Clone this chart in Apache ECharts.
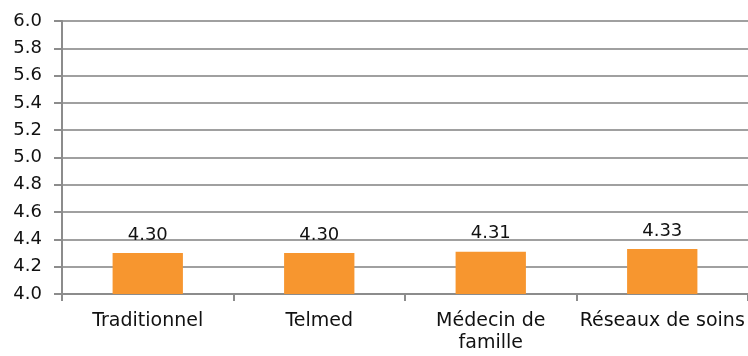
<!DOCTYPE html>
<html>
<head>
<meta charset="utf-8">
<script src="https://cdn.jsdelivr.net/npm/echarts@6/dist/echarts.min.js"></script>
<style>
  html, body { margin: 0; padding: 0; background: #ffffff; }
  #chart { width: 748px; height: 356px; }
</style>
</head>
<body>
<div id="chart"></div>
<script>
// Categories and mean scores per care model
const categories = ['Traditionnel', 'Telmed', 'Médecin de\nfamille', 'Réseaux de soins'];
const scores = [4.30, 4.30, 4.31, 4.33];

// Value axis range
const yMin = 4.0;
const yMax = 6.0;
const yStep = 0.2;

const font = 'DejaVu Sans';
const axisGray = '#8c8c8c';

const chart = echarts.init(document.getElementById('chart'), null, { renderer: 'canvas' });

chart.setOption({
  animation: false,
  backgroundColor: '#ffffff',
  grid: { left: 62, right: -4, top: 21, bottom: 62, containLabel: false },
  xAxis: {
    type: 'category',
    data: categories,
    axisLine: { show: true, lineStyle: { color: axisGray, width: 2 } },
    axisTick: { show: true, alignWithLabel: false, length: 7, lineStyle: { color: axisGray, width: 2 } },
    axisLabel: {
      fontFamily: font, fontSize: 19, color: '#111111',
      margin: 16, lineHeight: 22, interval: 0
    }
  },
  yAxis: {
    type: 'value',
    min: yMin, max: yMax, interval: yStep,
    axisLine: { show: true, lineStyle: { color: axisGray, width: 2 } },
    axisTick: { show: true, length: 8, lineStyle: { color: axisGray, width: 2 } },
    axisLabel: {
      fontFamily: font, fontSize: 18, color: '#111111', margin: 20,
      formatter: v => v.toFixed(1)
    },
    splitLine: { show: true, lineStyle: { color: '#a0a0a0', width: 2 } }
  },
  series: [{
    type: 'bar',
    data: scores,
    barWidth: '41%',
    itemStyle: { color: '#f7962f' },
    label: {
      show: true, position: 'top', distance: 9,
      fontFamily: font, fontSize: 18, color: '#111111',
      formatter: p => p.value.toFixed(2)
    }
  }]
});
</script>
</body>
</html>
